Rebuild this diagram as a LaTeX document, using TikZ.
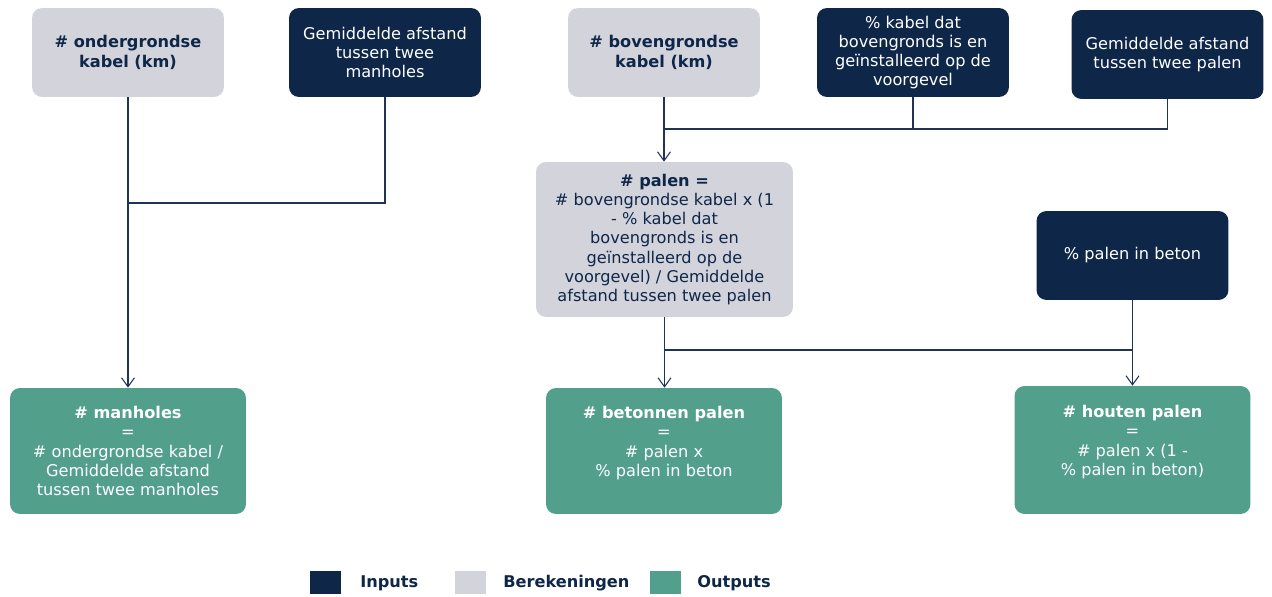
\documentclass[tikz,border=0pt]{standalone}
\usepackage{fontspec}
\setmainfont{DejaVu Sans}
\usepackage{xcolor}
\usetikzlibrary{arrows.meta, positioning}

\definecolor{navy}{HTML}{0E2749}
\definecolor{lightgray}{HTML}{D3D3DC}
\definecolor{teal}{HTML}{52A08C}
\definecolor{linecol}{HTML}{1F3354}

\begin{document}
\begin{tikzpicture}[x=0.02cm, y=-0.02cm,
  font=\fontsize{9.2}{10.9}\selectfont,
  box/.style={rounded corners=0.2cm, inner sep=0pt, align=center,
    minimum width=3.84cm, minimum height=1.78cm},
  inbox/.style={box, fill=navy, text=white},
  calcbox/.style={box, fill=lightgray, text=navy},
  outbox/.style={box, fill=teal, text=white, minimum width=4.72cm, minimum height=2.52cm},
  line/.style={draw=linecol, line width=0.6pt},
  conn/.style={line, -{Straight Barb[length=1.8mm, width=2.6mm]}},
  legbox/.style={minimum width=0.62cm, minimum height=0.46cm, inner sep=0pt},
  legtext/.style={text=navy, font=\fontsize{9.2}{10.9}\selectfont\bfseries, anchor=west, inner sep=0pt}]
\useasboundingbox (0,0) rectangle (1272,597);

% Manholes
\node[calcbox] (onder) at (128,52.5) {\textbf{\# ondergrondse}\\\textbf{kabel (km)}};
\node[inbox] (gemman) at (385,52.5) {Gemiddelde afstand\\tussen twee\\manholes};
\node[outbox] (manh) at (128,451) {\textbf{\# manholes}\\=\\\# ondergrondse kabel /\\Gemiddelde afstand\\tussen twee manholes};
\coordinate (j1) at (128,203);
\draw[conn] (onder.south) -- (onder.south |- manh.north);
\draw[line] (gemman.south) |- (j1);

% Palen
\node[calcbox] (boven) at (664,52.5) {\textbf{\# bovengrondse}\\\textbf{kabel (km)}};
\node[inbox] (pkabel) at (913,52.5) {\% kabel dat\\bovengronds is en\\geïnstalleerd op de\\voorgevel};
\node[inbox] (gempal) at (1167.5,54.5) {Gemiddelde afstand\\tussen twee palen};
\node[calcbox, minimum width=5.14cm, minimum height=3.1cm] (palen) at (664.5,239.5)
  {\textbf{\# palen =}\\\# bovengrondse kabel x (1\\- \% kabel dat\\bovengronds is en\\geïnstalleerd op de\\voorgevel) / Gemiddelde\\afstand tussen twee palen};
\coordinate (j2) at (664,129);
\draw[conn] (boven.south) -- (boven.south |- palen.north);
\draw[line] (pkabel.south) |- (j2);
\draw[line] (gempal.south) |- (j2);

% Beton en hout
\node[inbox] (pbeton) at (1132.5,255.5) {\% palen in beton};
\node[outbox] (beton) at (664,451) {\textbf{\# betonnen palen}\\=\\\# palen x\\\% palen in beton\\\mbox{}};
\node[outbox, minimum height=2.56cm] (hout) at (1132.5,450) {\textbf{\# houten palen}\\=\\\# palen x (1 -\\\% palen in beton)\\\mbox{}};
\coordinate (j3) at (664,350);
\draw[conn] (palen.south) -- (palen.south |- beton.north);
\draw[conn] (pbeton.south) -- (pbeton.south |- hout.north);
\draw[line] (j3) -- (pbeton.south |- j3);

% Legend
\node[legbox, fill=navy] (lin) at (325.5,582.5) {};
\node[legtext] (tin) at (360,583) {Inputs};
\node[legbox, fill=lightgray] (lcalc) at (470.5,582.5) {};
\node[legtext] (tcalc) at (503,583) {Berekeningen};
\node[legbox, fill=teal] (lout) at (665.5,582.5) {};
\node[legtext] (tout) at (697,583) {Outputs};
\end{tikzpicture}
\end{document}
